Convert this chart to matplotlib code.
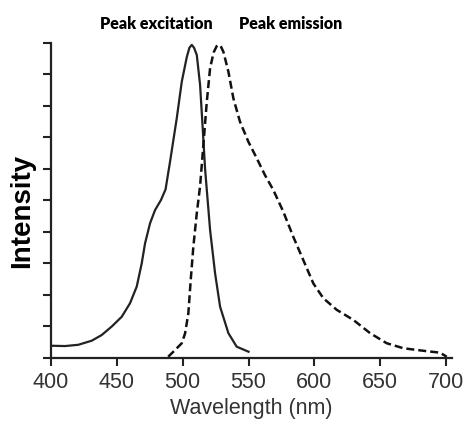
import matplotlib
matplotlib.use("Agg")
import matplotlib.pyplot as plt

# Excitation spectrum (solid)
exc_wl = [400, 410.6, 420.7, 430.9, 438.5, 446.1, 453.7, 460, 465.1, 468.9, 471.4,
          475.2, 479, 483.5, 487, 490.4, 495.5, 499.3, 503.1, 505.1, 506.9, 508.6,
          510.7, 513.2, 515.2, 517, 520.8, 524.6, 528.4, 534.7, 541, 550]
exc_int = [0.038, 0.037, 0.041, 0.054, 0.072, 0.099, 0.130, 0.173, 0.226, 0.30, 0.363,
           0.427, 0.469, 0.501, 0.535, 0.623, 0.761, 0.877, 0.955, 0.985, 0.994, 0.985,
           0.962, 0.867, 0.729, 0.60, 0.406, 0.268, 0.162, 0.078, 0.035, 0.019]

# Emission spectrum (dashed)
em_wl = [489, 492.9, 499.3, 501.8, 504.3, 506.1, 508.1, 510.7, 513.2, 515.7, 518.3,
         520.8, 523.5, 525.8, 527.1, 528.9, 530.9, 534.7, 538.5, 543.5, 549.9, 556.2,
         562.5, 568.8, 576.4, 584, 591.6, 599.2, 606.8, 617, 629.6, 642.3, 654.9,
         667.6, 682.8, 695.4, 700.5]
em_int = [0.003, 0.019, 0.046, 0.077, 0.141, 0.247, 0.353, 0.459, 0.545, 0.676, 0.813,
          0.92, 0.97, 0.99, 0.994, 0.99, 0.972, 0.909, 0.824, 0.75, 0.686, 0.634, 0.58,
          0.533, 0.464, 0.384, 0.31, 0.236, 0.189, 0.152, 0.12, 0.078, 0.046, 0.03,
          0.022, 0.016, 0.003]

x_ticks = [400, 450, 500, 550, 600, 650, 700]
y_ticks = [i / 10 for i in range(11)]

fig = plt.figure(figsize=(4.77, 4.36), dpi=100)
ax = fig.add_axes([51 / 477, 78.3 / 436, 401 / 477, 314.7 / 436])

ax.plot(exc_wl, exc_int, color="#222222", linewidth=1.6, solid_joinstyle="round")
ax.plot(em_wl, em_int, color="#111111", linewidth=1.8, linestyle=(0, (3.2, 1.6)))

ax.set_xlim(400, 704.5)
ax.set_ylim(0, 1)
ax.set_xticks(x_ticks)
ax.set_yticks(y_ticks)
ax.set_yticklabels([])
ax.tick_params(axis="x", direction="out", length=6, width=1.5, colors="#222222",
               labelsize=15.5, labelcolor="#333333", pad=4)
ax.tick_params(axis="y", direction="out", length=6, width=1.5, colors="#222222")
for name in ("top", "right"):
    ax.spines[name].set_visible(False)
for name in ("left", "bottom"):
    ax.spines[name].set_linewidth(1.6)
    ax.spines[name].set_color("#222222")
for lbl in ax.get_xticklabels():
    lbl.set_fontfamily("Liberation Sans")

ax.set_xlabel("Wavelength (nm)", fontsize=15.5, family="Liberation Sans",
              color="#333333", labelpad=4)
fig.text(22 / 477, 1 - 211 / 436, "Intensity", rotation=90, fontsize=20,
         fontweight="bold", family="Liberation Sans", ha="center", va="center")

fig.text(156.7 / 477, 1 - 24 / 436, "Peak excitation", fontsize=11.5,
         fontweight="heavy", family="Lato", ha="center", va="center")
fig.text(290.8 / 477, 1 - 24 / 436, "Peak emission", fontsize=11.5,
         fontweight="heavy", family="Lato", ha="center", va="center")

fig.savefig("out.png", dpi=100)
